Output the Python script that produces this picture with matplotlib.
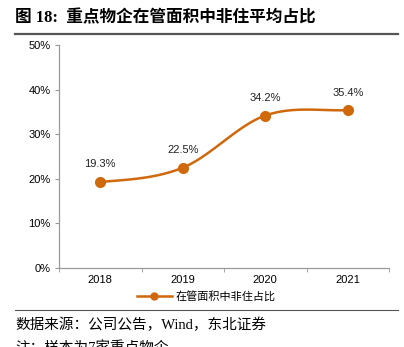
import matplotlib.pyplot as plt
import numpy as np
from matplotlib.lines import Line2D

# 重点物企在管面积中非住平均占比
years = ["2018", "2019", "2020", "2021"]
ratio = [19.3, 22.5, 34.2, 35.4]
labels = ["19.3%", "22.5%", "34.2%", "35.4%"]
yticks = [0, 10, 20, 30, 40, 50]

orange = "#D0680C"
cjk = ["Noto Sans CJK SC", "DejaVu Sans"]
serif_cjk = ["Liberation Serif", "Noto Sans CJK SC"]
latin = ["Liberation Sans", "DejaVu Sans"]


def smooth(x, y, n=40, tension=0.5):
    # cardinal spline through the points, like a spreadsheet "smoothed line"
    x = np.asarray(x, float)
    y = np.asarray(y, float)
    px = np.concatenate([[2 * x[0] - x[1]], x, [2 * x[-1] - x[-2]]])
    py = np.concatenate([[y[0]], y, [y[-1]]])
    xs, ys = [], []
    for i in range(1, len(px) - 2):
        t = np.linspace(0, 1, n)
        m0x = tension * (px[i + 1] - px[i - 1])
        m1x = tension * (px[i + 2] - px[i])
        m0y = tension * (py[i + 1] - py[i - 1])
        m1y = tension * (py[i + 2] - py[i])
        h00 = 2 * t**3 - 3 * t**2 + 1
        h10 = t**3 - 2 * t**2 + t
        h01 = -2 * t**3 + 3 * t**2
        h11 = t**3 - t**2
        xs.append(h00 * px[i] + h10 * m0x + h01 * px[i + 1] + h11 * m1x)
        ys.append(h00 * py[i] + h10 * m0y + h01 * py[i + 1] + h11 * m1y)
    return np.concatenate(xs), np.concatenate(ys)


fig = plt.figure(figsize=(4.04, 3.47), dpi=100)
ax = fig.add_axes([0.146, 0.2277, 0.817, 0.6423])

xpos = np.arange(len(years))
sx, sy = smooth(xpos, ratio)
ax.plot(sx, sy, color=orange, lw=1.8, solid_capstyle="round", zorder=2)
ax.plot(xpos, ratio, "o", color=orange, ms=7, zorder=3)

for x, v, t in zip(xpos, ratio, labels):
    ax.annotate(t, (x, v), xytext=(0, 9), textcoords="offset points",
                ha="center", va="bottom", fontsize=8, family=latin, color="#222222")

ax.set_xlim(-0.5, len(years) - 0.5)
ax.set_ylim(0, 50)
ax.set_yticks(yticks)
ax.set_yticklabels([f"{v}%" for v in yticks], family=latin, fontsize=8)
ax.set_xticks(xpos)
ax.set_xticklabels(years, family=latin, fontsize=8)
ax.set_xticks(np.arange(-0.5, len(years)), minor=True)
ax.tick_params(axis="x", which="major", length=0, pad=5)
ax.tick_params(axis="x", which="minor", length=3, color="#999999")
ax.tick_params(axis="y", length=3, color="#999999", pad=3)
for s in ["top", "right"]:
    ax.spines[s].set_visible(False)
for s in ["left", "bottom"]:
    ax.spines[s].set_color("#999999")
    ax.spines[s].set_linewidth(0.9)

handle = Line2D([], [], color=orange, lw=1.8, marker="o", ms=5)
fig.legend([handle], ["在管面积中非住占比"], loc="center", bbox_to_anchor=(0.51, 0.145),
           frameon=False, prop={"family": cjk, "size": 8}, handlelength=3.2,
           handletextpad=0.3)

fig.text(0.037, 0.948, "图 18:  重点物企在管面积中非住平均占比", family=serif_cjk,
         fontsize=12, fontweight="bold", va="center", ha="left")
fig.add_artist(Line2D([0.037, 0.985], [0.903, 0.903], color="#555555", lw=1.6))
fig.add_artist(Line2D([0.037, 0.985], [0.107, 0.107], color="#555555", lw=0.8))
fig.text(0.037, 0.063, "数据来源：公司公告，Wind，东北证券", family=serif_cjk,
         fontsize=10.5, va="center", ha="left")
fig.text(0.037, -0.004, "注：样本为7家重点物企", family=serif_cjk,
         fontsize=10.5, va="center", ha="left")

fig.savefig("out.png", dpi=100)
